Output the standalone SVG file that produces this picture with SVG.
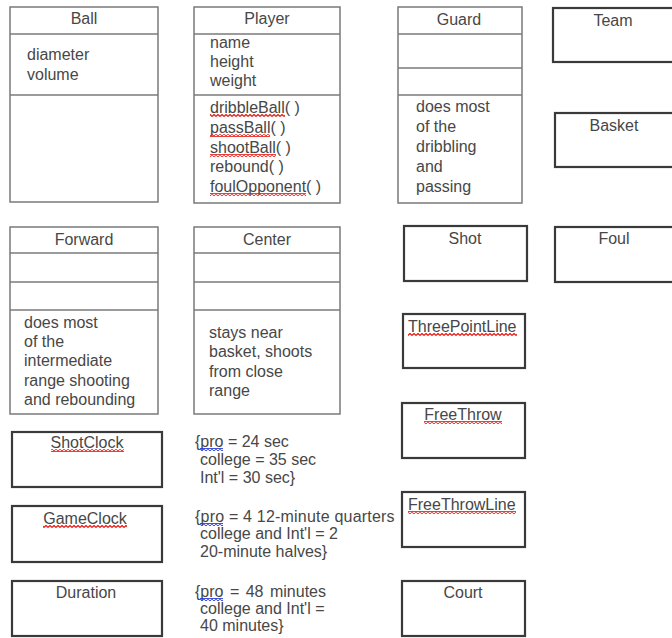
<svg xmlns="http://www.w3.org/2000/svg" width="672" height="638" viewBox="0 0 672 638">
  <defs>
    <!-- spell-check squiggles -->
    <pattern id="sqRed" width="4" height="3" patternUnits="userSpaceOnUse">
      <path d="M0 2.5 L2 0.5 L4 2.5" fill="none" stroke="#e8201c" stroke-width="1.3"/>
    </pattern>
    <pattern id="sqBlue" width="4" height="3" patternUnits="userSpaceOnUse">
      <path d="M0 2.5 L2 0.5 L4 2.5" fill="none" stroke="#2236d8" stroke-width="1.3"/>
    </pattern>
  </defs>
  <style>
    text { font-family: "Liberation Sans", Arial, sans-serif; font-size: 16px; fill: #474747; }
    .c { text-anchor: middle; }
    .uml { fill: #fff; stroke: #7a7a7a; stroke-width: 1.5; }
    .sep { stroke: #7a7a7a; stroke-width: 1.5; }
    .box { fill: #fff; stroke: #3a3a3a; stroke-width: 2.2; }
    .red { fill: url(#sqRed); }
    .blue { fill: url(#sqBlue); }
  </style>
  <rect width="672" height="638" fill="#fff"/>

  <g id="connectors"></g>

  <!-- class boxes with compartments -->
  <g id="Ball">
    <rect class="uml" x="10" y="7" width="148" height="195"/>
    <line class="sep" x1="10" y1="34" x2="158" y2="34"/>
    <line class="sep" x1="10" y1="95" x2="158" y2="95"/>
    <text class="c" x="84" y="24">Ball</text>
    <text x="27" y="60">diameter</text>
    <text x="27" y="80">volume</text>
  </g>

  <g id="Player">
    <rect class="uml" x="194" y="7" width="146" height="196"/>
    <line class="sep" x1="194" y1="34" x2="340" y2="34"/>
    <line class="sep" x1="194" y1="95" x2="340" y2="95"/>
    <text class="c" x="267" y="24">Player</text>
    <text x="210" y="48">name</text>
    <text x="210" y="67">height</text>
    <text x="210" y="86">weight</text>
    <text x="210" y="113">dribbleBall( )</text>
    <text x="210" y="133">passBall( )</text>
    <text x="210" y="153">shootBall( )</text>
    <text x="210" y="172">rebound( )</text>
    <text x="210" y="192">foulOpponent( )</text>
    <rect class="red" x="210" y="114" width="75" height="3"/>
    <rect class="red" x="210" y="134" width="60" height="3"/>
    <rect class="red" x="210" y="154" width="66" height="3"/>
    <rect class="red" x="210" y="193" width="96" height="3"/>
  </g>

  <g id="Guard">
    <rect class="uml" x="398" y="7" width="124" height="196"/>
    <line class="sep" x1="398" y1="34" x2="522" y2="34"/>
    <line class="sep" x1="398" y1="68" x2="522" y2="68"/>
    <line class="sep" x1="398" y1="95" x2="522" y2="95"/>
    <text class="c" x="459" y="25">Guard</text>
    <text x="416" y="112">does most</text>
    <text x="416" y="132">of the</text>
    <text x="416" y="152">dribbling</text>
    <text x="416" y="172">and</text>
    <text x="416" y="192">passing</text>
  </g>

  <g id="Forward">
    <rect class="uml" x="10" y="227" width="148" height="187"/>
    <line class="sep" x1="10" y1="253" x2="158" y2="253"/>
    <line class="sep" x1="10" y1="282" x2="158" y2="282"/>
    <line class="sep" x1="10" y1="310" x2="158" y2="310"/>
    <text class="c" x="84" y="245">Forward</text>
    <text x="24" y="328">does most</text>
    <text x="24" y="347">of the</text>
    <text x="24" y="366">intermediate</text>
    <text x="24" y="386">range shooting</text>
    <text x="24" y="405">and rebounding</text>
  </g>

  <g id="Center">
    <rect class="uml" x="194" y="227" width="146" height="187"/>
    <line class="sep" x1="194" y1="253" x2="340" y2="253"/>
    <line class="sep" x1="194" y1="282" x2="340" y2="282"/>
    <line class="sep" x1="194" y1="310" x2="340" y2="310"/>
    <text class="c" x="267" y="245">Center</text>
    <text x="209" y="338">stays near</text>
    <text x="209" y="357">basket, shoots</text>
    <text x="209" y="377">from close</text>
    <text x="209" y="396">range</text>
  </g>

  <!-- simple boxes -->
  <g id="Team">
    <rect class="box" x="553" y="8" width="130" height="54"/>
    <text class="c" x="613" y="26">Team</text>
  </g>

  <g id="Basket">
    <rect class="box" x="555" y="113" width="130" height="54"/>
    <text class="c" x="614" y="131">Basket</text>
  </g>

  <g id="Shot">
    <rect class="box" x="404" y="226" width="123" height="55"/>
    <text class="c" x="465" y="244">Shot</text>
  </g>

  <g id="Foul">
    <rect class="box" x="555" y="227" width="130" height="55"/>
    <text class="c" x="614" y="244">Foul</text>
  </g>

  <g id="ThreePointLine">
    <rect class="box" x="403" y="314" width="122" height="54"/>
    <text x="408" y="332">ThreePointLine</text>
    <rect class="red" x="408" y="333" width="109" height="3"/>
  </g>

  <g id="FreeThrow">
    <rect class="box" x="402" y="403" width="123" height="55"/>
    <text class="c" x="463" y="420">FreeThrow</text>
    <rect class="red" x="424" y="421" width="78" height="3"/>
  </g>

  <g id="FreeThrowLine">
    <rect class="box" x="402" y="492" width="123" height="55"/>
    <text x="408" y="510">FreeThrowLine</text>
    <rect class="red" x="408" y="511" width="108" height="3"/>
  </g>

  <g id="Court">
    <rect class="box" x="402" y="581" width="123" height="55"/>
    <text class="c" x="463" y="598">Court</text>
  </g>

  <g id="ShotClock">
    <rect class="box" x="12" y="432" width="150" height="55"/>
    <text class="c" x="87" y="448">ShotClock</text>
    <rect class="red" x="51" y="449" width="73" height="3"/>
    <text x="195" y="447">{pro = 24 sec</text>
    <text x="200" y="465">college = 35 sec</text>
    <text x="200" y="483">Int'l = 30 sec}</text>
    <rect class="blue" x="200" y="448" width="23" height="3"/>
  </g>

  <g id="GameClock">
    <rect class="box" x="12" y="506" width="150" height="56"/>
    <text class="c" x="85" y="524">GameClock</text>
    <rect class="red" x="43" y="525" width="84" height="3"/>
    <text x="195" y="522" letter-spacing="0.2">{pro = 4 12-minute quarters</text>
    <text x="200" y="539">college and Int'l = 2</text>
    <text x="200" y="557">20-minute halves}</text>
    <rect class="blue" x="200" y="523" width="23" height="3"/>
  </g>

  <g id="Duration">
    <rect class="box" x="12" y="581" width="150" height="55"/>
    <text class="c" x="86" y="598">Duration</text>
    <text x="195" y="597" word-spacing="2">{pro = 48 minutes</text>
    <text x="200" y="614">college and Int'l =</text>
    <text x="200" y="631">40 minutes}</text>
    <rect class="blue" x="200" y="598" width="23" height="3"/>
  </g>
</svg>
